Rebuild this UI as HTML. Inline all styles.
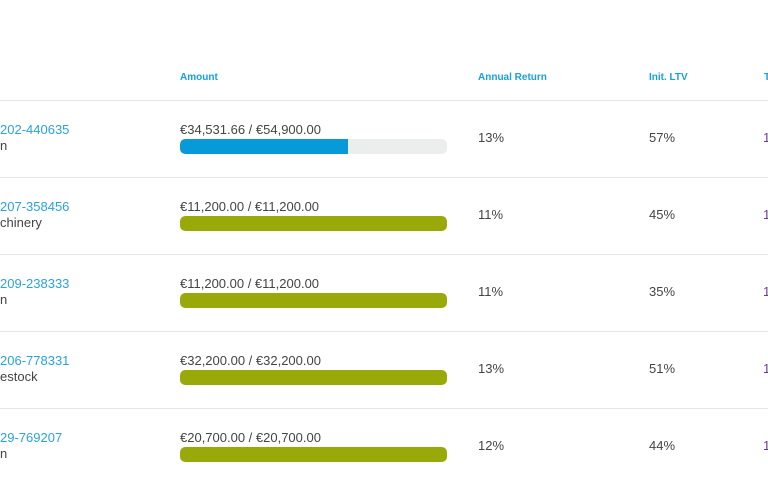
<!DOCTYPE html>
<html><head><meta charset="utf-8"><style>
body{margin:0;width:768px;height:480px;overflow:hidden;background:#fff;font-family:"Liberation Sans",sans-serif;position:relative}
.h{position:absolute;top:72px;font-size:10px;font-weight:bold;color:#1a9fdb}
.sep{position:absolute;left:0;width:768px;height:1px;background:#e6e6e6}
.t{position:absolute;font-size:13px;color:#444;white-space:nowrap}
.lnk{color:#29a3dc}
.bar{position:absolute;left:180px;width:267px;height:15px;border-radius:5px;background:#eceeee;overflow:hidden}
.fill{height:100%;border-radius:5px 0 0 5px}
</style></head><body>
<div class="h" style="left:180px">Amount</div>
<div class="h" style="left:478px">Annual Return</div>
<div class="h" style="left:649px">Init. LTV</div>
<div class="h" style="left:764px">T</div>
<div class="sep" style="top:100px"></div>
<div id="rows"></div>
<script>
const ids=["202-440635","207-358456","209-238333","206-778331","29-769207"];
const types=["n","chinery","n","estock","n"];
const funded=[34531.66,11200,11200,32200,20700];
const totals=[54900,11200,11200,32200,20700];
const returns=["13%","11%","11%","13%","12%"];
const ltvs=["57%","45%","35%","51%","44%"];
const fmt=v=>"€"+v.toLocaleString("en-US",{minimumFractionDigits:2,maximumFractionDigits:2});
const root=document.getElementById("rows");
ids.forEach((id,i)=>{
 const top=100+i*77;
 const add=(cls,style,html,name,inter)=>{const d=document.createElement("div");d.className=cls;d.style.cssText=style;d.innerHTML=html;
 
 
 root.appendChild(d);return d;};
 add("t lnk","left:0;top:"+(top+22)+"px",id,"loan-id-link",'true');
 add("t","left:0;top:"+(top+38)+"px",types[i],"loan-type",'false');
 add("t","left:180px;top:"+(top+22)+"px",fmt(funded[i])+" / "+fmt(totals[i]),"amount-text",'false');
 const p=funded[i]/totals[i];
 const b=add("bar","top:"+(top+39)+"px","","progress-bar",'false');
 const f=document.createElement("div");f.className="fill";
 
 
 f.style.width=(p*100)+"%";f.style.background=p>=1?"#9aa90a":"#069ad8";if(p>=1)f.style.borderRadius="5px";b.appendChild(f);
 add("t","left:478px;top:"+(top+30)+"px",returns[i],"annual-return",'false');
 add("t","left:649px;top:"+(top+30)+"px",ltvs[i],"init-ltv",'false');
 add("t","left:763px;top:"+(top+30)+"px;color:#6a3d8a","1","term-value",'false');
 if(i<4)add("sep","top:"+(top+77)+"px","","row-divider",'false');
});
</script>
</body></html>
